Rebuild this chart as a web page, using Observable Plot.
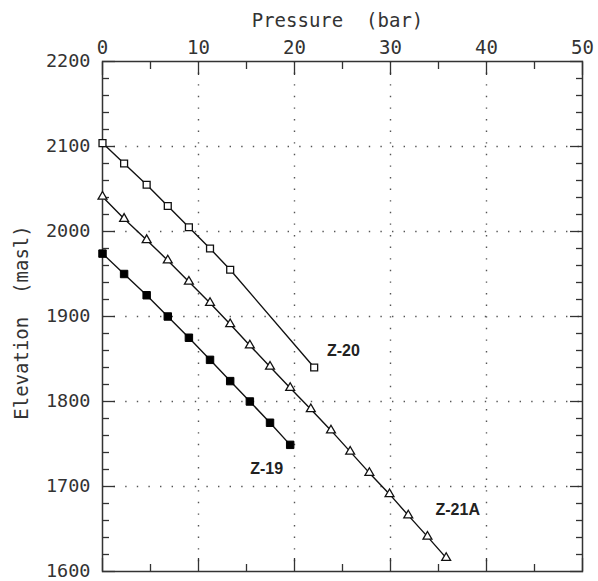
<!DOCTYPE html>
<html>
<head>
<meta charset="utf-8">
<script src="https://cdn.jsdelivr.net/npm/d3@7"></script>
<script src="https://cdn.jsdelivr.net/npm/@observablehq/plot@0.6"></script>
<style>
  html, body { margin: 0; padding: 0; background: #fff; }
  #chart { width: 598px; height: 581px; }
</style>
</head>
<body>
<div id="chart"></div>
<script>
// ---- data ----
const z20Pressure = [0, 2.25, 4.6, 6.8, 9.0, 11.2, 13.3, 22.05];
const z20Elevation = [2104, 2080, 2055, 2030, 2005, 1980, 1955, 1840];

const z21aPressure = [0, 2.25, 4.6, 6.8, 9.0, 11.2, 13.3, 15.35, 17.45, 19.55, 21.7, 23.8, 25.8, 27.8, 29.9, 31.85, 33.85, 35.8];
const z21aElevation = [2041, 2015, 1990, 1966, 1941, 1916, 1891, 1866, 1841, 1816, 1791, 1766, 1741, 1716, 1691, 1666, 1641, 1616];

const z19Pressure = [0, 2.25, 4.6, 6.8, 9.0, 11.2, 13.3, 15.35, 17.45, 19.55];
const z19Elevation = [1974, 1950, 1925, 1900, 1875, 1849, 1824, 1800, 1775, 1749];

const seriesNames = ["Z-20", "Z-21A", "Z-19"];
const labelPressure = [25.1, 37.0, 17.1];
const labelElevation = [1860, 1672, 1721];

const xMajorTicks = [0, 10, 20, 30, 40, 50];
const xMinorTicks = [5, 15, 25, 35, 45];
const xGridValues = [10, 20, 30, 40];
const yMajorTicks = [1600, 1700, 1800, 1900, 2000, 2100, 2200];
const yMinorTicks = [1620, 1640, 1660, 1680, 1720, 1740, 1760, 1780, 1820, 1840, 1860, 1880,
                     1920, 1940, 1960, 1980, 2020, 2040, 2060, 2080, 2120, 2140, 2160, 2180];
const yGridValues = [1700, 1800, 1900, 2000, 2100];

const xTitle = "Pressure  (bar)";
const yTitle = "Elevation  (masl)";

// ---- build tables ----
const toRows = (P, E, name) => P.map((p, i) => ({pressure: p, elevation: E[i], series: name}));
const z20 = toRows(z20Pressure, z20Elevation, "Z-20");
const z21a = toRows(z21aPressure, z21aElevation, "Z-21A");
const z19 = toRows(z19Pressure, z19Elevation, "Z-19");
const labels = seriesNames.map((n, i) => ({name: n, pressure: labelPressure[i], elevation: labelElevation[i]}));

// ---- layout ----
const W = 598, H = 581;
const mTop = 61, mLeft = 102, mRight = 16, mBottom = 10;
const majorLen = 13, minorLen = 7;
const axisFont = "'DejaVu Sans Mono', monospace";
const axisColor = "#333";
const tickColor = "#333";

const chart = Plot.plot({
  width: W,
  height: H,
  marginTop: mTop,
  marginLeft: mLeft,
  marginRight: mRight,
  marginBottom: mBottom,
  style: {background: "#fff", overflow: "visible"},
  x: {domain: [0, 50], axis: null},
  y: {domain: [1600, 2200], axis: null},
  marks: [
    // dotted grid
    Plot.gridX(xGridValues, {stroke: "#555", strokeOpacity: 1, strokeWidth: 1.4, strokeDasharray: "1.4,10.2"}),
    Plot.gridY(yGridValues, {stroke: "#555", strokeOpacity: 1, strokeWidth: 1.4, strokeDasharray: "1.4,10.2"}),
    // inward ticks drawn by axis marks with negative tick size
    Plot.axisX(xMajorTicks, {anchor: "top", tickSize: -majorLen, tickFormat: () => "", label: null, stroke: tickColor, strokeWidth: 1.3}),
    Plot.axisX(xMajorTicks, {anchor: "bottom", tickSize: -majorLen, tickFormat: () => "", label: null, stroke: tickColor, strokeWidth: 1.3}),
    Plot.axisX(xMinorTicks, {anchor: "top", tickSize: -minorLen, tickFormat: () => "", label: null, stroke: tickColor, strokeWidth: 1.3}),
    Plot.axisX(xMinorTicks, {anchor: "bottom", tickSize: -minorLen, tickFormat: () => "", label: null, stroke: tickColor, strokeWidth: 1.3}),
    Plot.axisY(yMajorTicks, {anchor: "left", tickSize: -majorLen, tickFormat: () => "", label: null, stroke: tickColor, strokeWidth: 1.3}),
    Plot.axisY(yMajorTicks, {anchor: "right", tickSize: -majorLen, tickFormat: () => "", label: null, stroke: tickColor, strokeWidth: 1.3}),
    Plot.axisY(yMinorTicks, {anchor: "left", tickSize: -minorLen, tickFormat: () => "", label: null, stroke: tickColor, strokeWidth: 1.3}),
    Plot.axisY(yMinorTicks, {anchor: "right", tickSize: -minorLen, tickFormat: () => "", label: null, stroke: tickColor, strokeWidth: 1.3}),
    Plot.frame({stroke: axisColor, strokeWidth: 1.5}),
    // tick labels
    Plot.axisX(xMajorTicks, {anchor: "top", tickSize: 0, tickPadding: 8, label: null,
      fontSize: 19, fontFamily: axisFont, fill: axisColor, tickFormat: d => String(d)}),
    Plot.axisY(yMajorTicks, {anchor: "left", tickSize: 0, tickPadding: 12, label: null,
      fontSize: 18.5, fontFamily: axisFont, fill: axisColor, tickFormat: d => String(d)}),
    // axis titles
    Plot.text([xTitle], {text: d => d, frameAnchor: "top", dy: -41, dx: -5, lineAnchor: "middle",
      fontSize: 19, fontFamily: axisFont, fill: axisColor}),
    Plot.text([yTitle], {text: d => d, frameAnchor: "left", textAnchor: "middle", dx: -81, dy: 6, rotate: -90, lineAnchor: "middle",
      fontSize: 19, fontFamily: axisFont, fill: axisColor}),
    // series lines
    Plot.line(z20, {x: "pressure", y: "elevation", stroke: "#111", strokeWidth: 1.4}),
    Plot.line(z21a, {x: "pressure", y: "elevation", stroke: "#111", strokeWidth: 1.4}),
    Plot.line(z19, {x: "pressure", y: "elevation", stroke: "#111", strokeWidth: 1.4}),
    // markers
    Plot.dot(z20, {x: "pressure", y: "elevation", symbol: "square", r: 3.9, fill: "#fff", stroke: "#111", strokeWidth: 1.3}),
    Plot.dot(z21a, {x: "pressure", y: "elevation", symbol: "triangle", r: 3.3, fill: "#fff", stroke: "#111", strokeWidth: 1.3}),
    Plot.dot(z19, {x: "pressure", y: "elevation", symbol: "square", r: 4.2, fill: "#000", stroke: "#000", strokeWidth: 1}),
    // series labels
    Plot.text(labels, {x: "pressure", y: "elevation", text: "name", fontSize: 16, fontWeight: "bold",
      fontFamily: "'Liberation Sans', Arial, sans-serif", fill: "#222", lineAnchor: "middle"})
  ]
});

document.getElementById("chart").appendChild(chart);
</script>
</body>
</html>
